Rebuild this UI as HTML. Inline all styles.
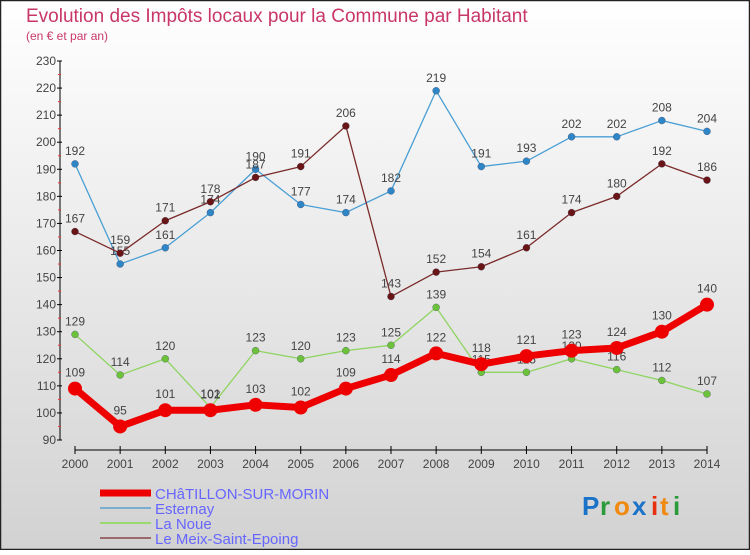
<!DOCTYPE html>
<html><head><meta charset="utf-8"><style>
html,body{margin:0;padding:0}
body{width:750px;height:550px;overflow:hidden;font-family:"Liberation Sans",sans-serif}
</style></head><body>
<svg id="chart" width="750" height="550" xmlns="http://www.w3.org/2000/svg" font-family="Liberation Sans, sans-serif">
<defs><linearGradient id="bg" x1="0" y1="0" x2="0" y2="1"><stop offset="0" stop-color="#ffffff"/><stop offset="1" stop-color="#d2d2d2"/></linearGradient></defs>
<rect x="0.5" y="0.5" width="749" height="549" fill="url(#bg)" stroke="#222" stroke-width="1.5"/>
<text x="26" y="22" font-size="19" fill="#c8366a">Evolution des Impôts locaux pour la Commune par Habitant</text>
<text x="26" y="40" font-size="12" fill="#c8366a">(en € et par an)</text>
<g id="axes"></g>
<g id="series"></g>
<g id="legend"></g>
<g font-size="26" font-weight="bold">
<text x="582" y="515" fill="#1a73c8">P</text><text x="600" y="515" fill="#2a9a3a">r</text><text x="614" y="515" fill="#f08a10">o</text><text x="632" y="515" fill="#1a73c8">x</text><text x="651" y="515" fill="#e83010">i</text><text x="660" y="515" fill="#f08a10">t</text><text x="673" y="515" fill="#2a9a3a">i</text>
</g>
</svg>
<script>
const years=[2000,2001,2002,2003,2004,2005,2006,2007,2008,2009,2010,2011,2012,2013,2014];
const yTicks=[90,100,110,120,130,140,150,160,170,180,190,200,210,220,230];
const chatillon=[109,95,101,101,103,102,109,114,122,118,121,123,124,130,140];
const esternay=[192,155,161,174,190,177,174,182,219,191,193,202,202,208,204];
const laNoue=[129,114,120,102,123,120,123,125,139,115,115,120,116,112,107];
const meix=[167,159,171,178,187,191,206,143,152,154,161,174,180,192,186];
const NS="http://www.w3.org/2000/svg";
const xS=i=>75+i*(707-75)/(years.length-1);
const yS=v=>440-(v-90)*(440-61)/140;
function mk(t,a,p){const e=document.createElementNS(NS,t);for(const k in a)e.setAttribute(k,a[k]);p.appendChild(e);return e;}
const ax=document.getElementById('axes');
let l=mk('line',{x1:60,y1:61,x2:60,y2:440,stroke:'#000'},ax);


yTicks.forEach((v,i)=>{
  mk('line',{x1:57,y1:yS(v),x2:62,y2:yS(v),stroke:'#000'},ax);
  if(i<yTicks.length-1) mk('line',{x1:58,y1:yS(v+5),x2:61,y2:yS(v+5),stroke:'#e33'},ax);
  const t=mk('text',{x:56,y:yS(v)+4,'text-anchor':'end','font-size':12,fill:'#444'},ax);
  t.textContent=v;
  
  
});
l=mk('line',{x1:75,y1:450,x2:707,y2:450,stroke:'#000'},ax);


years.forEach((y,i)=>{
  mk('line',{x1:xS(i),y1:446,x2:xS(i),y2:454,stroke:'#000'},ax);
  const t=mk('text',{x:xS(i),y:468,'text-anchor':'middle','font-size':12,fill:'#444'},ax);
  t.textContent=y;
  
  
});
const sg=document.getElementById('series');
const series=[
 {name:'esternay',d:esternay,c:'#4a9fd4',w:1.3,r:3.5,f:'#2f86c6'},
 {name:'la-noue',d:laNoue,c:'#8fd460',w:1.3,r:3.5,f:'#6cc33a'},
 {name:'le-meix-saint-epoing',d:meix,c:'#7a2a2a',w:1.3,r:3.5,f:'#6a1515'},
 {name:'chatillon-sur-morin',d:chatillon,c:'#ee0000',w:7,r:7,f:'#ee0000'}
];
series.forEach(s=>{
  const g=mk('g',{},sg);
  
  
  const pl=mk('polyline',{points:s.d.map((v,i)=>xS(i)+','+yS(v)).join(' '),fill:'none',stroke:s.c,'stroke-width':s.w,'stroke-linejoin':'round'},g);
  
  
  s.d.forEach((v,i)=>{
    const c=mk('circle',{cx:xS(i),cy:yS(v),r:s.r,fill:s.f,stroke:s.w>2?'none':'#335','stroke-width':0.3},g);
    
    
    const t=mk('text',{x:xS(i),y:yS(v)-(s.w>2?12:9),'text-anchor':'middle','font-size':12,fill:'#444'},g);
    t.textContent=v;
    
    
  });
});
const lg=document.getElementById('legend');
const leg=[['CHâTILLON-SUR-MORIN','#ee0000',7],['Esternay','#7aaed0',2],['La Noue','#9ad870',2],['Le Meix-Saint-Epoing','#9a6a6a',2]];
leg.forEach((e,i)=>{
  const y=493+i*15;
  const g=mk('g',{},lg);
  
  
  mk('line',{x1:100,y1:y,x2:151,y2:y,stroke:e[1],'stroke-width':e[2]},g);
  const t=mk('text',{x:155,y:y+6,'font-size':15,fill:'#6666ff'},g);
  t.textContent=e[0];
});
</script>
</body></html>
